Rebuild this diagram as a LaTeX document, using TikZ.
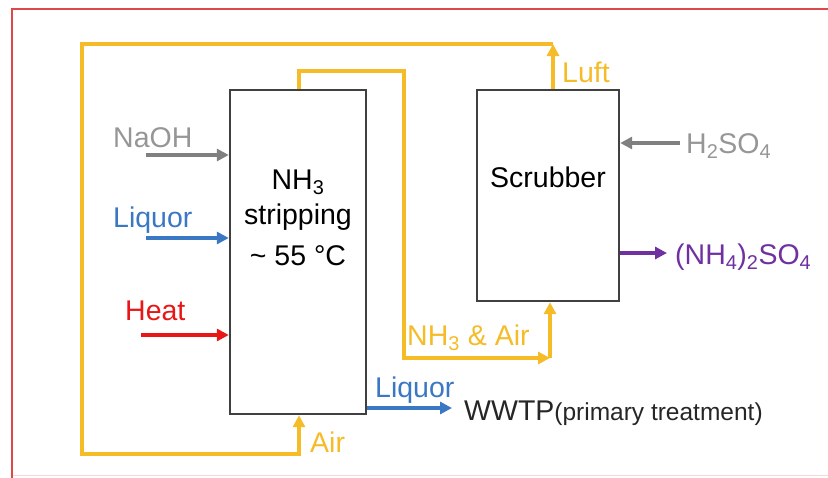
\documentclass[tikz,border=0pt]{standalone}
\usepackage{fontspec}
\setmainfont{Liberation Sans}
\usetikzlibrary{arrows.meta}
\definecolor{yl}{RGB}{245,188,40}
\definecolor{bl}{RGB}{58,120,195}
\definecolor{gr}{RGB}{128,128,128}
\definecolor{grt}{RGB}{150,150,150}
\definecolor{rd}{RGB}{232,22,22}
\definecolor{pu}{RGB}{112,48,160}
\definecolor{bx}{RGB}{64,64,64}
\definecolor{fr}{RGB}{222,72,72}
\definecolor{frl}{RGB}{250,215,215}
\tikzset{
  big/.style={font=\fontsize{28.5}{31}\selectfont},
  lbl/.style={big, inner sep=0pt, anchor=base west},
  unit/.style={draw=bx, line width=2.4pt, fill=white, inner sep=0pt},
  flow/.style={line width=3.2pt, -{Triangle[length=12pt,width=12pt]}},
}
\begin{document}
\begin{tikzpicture}[x=1pt,y=-1pt]
\useasboundingbox (0,0) rectangle (828,477);
% frame
\draw[frl, line width=1.5pt] (12,475.5) -- (830,475.5);
\draw[fr, line width=1.8pt] (12,480) -- (12,9) -- (835,9);

% units
\node[unit, minimum width=136pt, minimum height=324pt] (strip) at (298,252) {};
\node[unit, minimum width=142pt, minimum height=211pt] (scrub) at (548,195.5) {};

% unit texts
\node[lbl, anchor=base] (t1) at (298,189) {NH\textsubscript{3}};
\node[lbl, anchor=base] (t2) at (298,224) {stripping};
\node[lbl, anchor=base] (t3) at (298,265) {\textasciitilde{} 55 °C};
\node[lbl, anchor=base] (t4) at (548,187) {Scrubber};

% coordinates
\coordinate (naohS) at (146,155);
\coordinate (liqS) at (146,238);
\coordinate (heatS) at (141,335);
\coordinate (h2so4S) at (680,143);
\coordinate (amsE) at (667,253);
\coordinate (liqE) at (452,408);
\coordinate (o1) at (553,44);
\coordinate (o2) at (82,44);
\coordinate (o3) at (82,454);
\coordinate (o4) at (299,454);
\coordinate (i1) at (299,71);
\coordinate (i2) at (404,71);
\coordinate (i3) at (404,358);
\coordinate (i4) at (550,358);

% inputs
\draw[flow, gr] (naohS) -- (naohS -| strip.west);
\draw[flow, bl] (liqS) -- (liqS -| strip.west);
\draw[flow, rd] (heatS) -- (heatS -| strip.west);
\draw[flow, gr] (h2so4S) -- (h2so4S -| scrub.east);
\draw[flow, pu] (amsE -| scrub.east) -- (amsE);
\draw[flow, bl] (liqE -| strip.east) -- (liqE);

% yellow gas loops
\draw[flow, yl] (scrub.north -| o1) -- (o1);
\draw[flow, yl] (o1) -- (o2) -- (o3) -- (o4) -- (strip.south -| o4);
\draw[flow, yl] (strip.north -| i1) -- (i1) -- (i2) -- (i3) -- (i4);
\draw[flow, yl] (i4) -- (scrub.south -| i4);

% labels
\node[lbl, grt] (lnaoh) at (113,147) {NaOH};
\node[lbl, bl] (lliq) at (113,227) {Liquor};
\node[lbl, rd] (lheat) at (125,320) {Heat};
\node[lbl, grt] (lh2) at (686,153) {H\textsubscript{2}SO\textsubscript{4}};
\node[lbl, pu] (lams) at (675,264) {(NH\textsubscript{4})\textsubscript{2}SO\textsubscript{4}};
\node[lbl, yl] (lluft) at (562,82) {Luft};
\node[lbl, yl] (lnh3) at (407,345) {NH\textsubscript{3} \& Air};
\node[lbl, yl] (lair) at (310,452) {Air};
\node[lbl, bl] (lliq2) at (375,397) {Liquor};
\node[lbl, black!85] (lww) at (464,420) {WWTP\fontsize{24.5}{27}\selectfont(primary treatment)};
\end{tikzpicture}
\end{document}
